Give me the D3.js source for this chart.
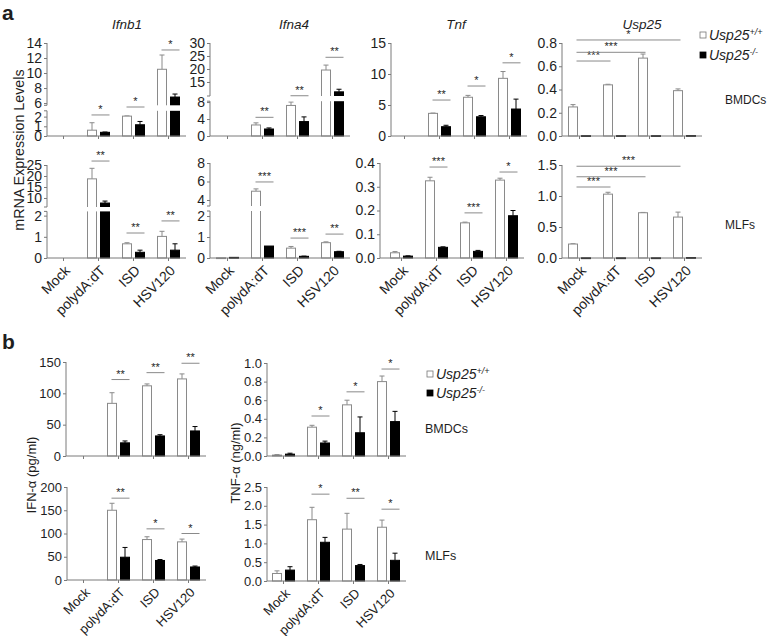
<!DOCTYPE html>
<html><head><meta charset="utf-8">
<script src="https://cdn.jsdelivr.net/npm/d3@7"></script>
<style>
body{margin:0;background:#fff;}
text{font-family:"Liberation Sans",Arial,sans-serif;}
</style></head><body>
<svg id="chart" width="768" height="636"></svg>
<script>
// ---------------- DATA ----------------
const categories = ["Mock", "polydA:dT", "ISD", "HSV120"];
const genotypes = ["Usp25+/+", "Usp25-/-"];

// Panel a – BMDCs (mRNA expression levels)
const ifnb1BmdcWt = [0, 0.6, 2.05, 10.5];
const ifnb1BmdcWtErr = [0, 0.77, 0.02, 1.9];
const ifnb1BmdcKo = [0, 0.38, 1.16, 6.8];
const ifnb1BmdcKoErr = [0, 0.03, 0.34, 0.4];
const ifnb1BmdcSig = [["polydA:dT", "*", 2.17], ["ISD", "*", 4.74], ["HSV120", "*", 13.07]];

const ifna4BmdcWt = [0, 2.6, 7.2, 19.6];
const ifna4BmdcWtErr = [0, 0.5, 0.8, 1.9];
const ifna4BmdcKo = [0, 1.65, 3.4, 11.2];
const ifna4BmdcKoErr = [0, 0.25, 1.1, 1.0];
const ifna4BmdcSig = [["polydA:dT", "**", 4.4], ["ISD", "**", 9.7], ["HSV120", "**", 24.5]];

const tnfBmdcWt = [0, 3.65, 6.25, 9.3];
const tnfBmdcWtErr = [0, 0.05, 0.3, 1.1];
const tnfBmdcKo = [0, 1.5, 3.1, 4.35];
const tnfBmdcKoErr = [0, 0.23, 0.2, 1.6];
const tnfBmdcSig = [["polydA:dT", "**", 5.8], ["ISD", "*", 8.06], ["HSV120", "*", 11.8]];

const usp25BmdcWt = [0.25, 0.44, 0.67, 0.39];
const usp25BmdcWtErr = [0.02, 0.005, 0.035, 0.015];
const usp25BmdcKo = [0.003, 0.003, 0.003, 0.004];
const usp25BmdcKoErr = [0, 0, 0, 0];
const usp25BmdcSig = [["polydA:dT", "***", 0.645], ["ISD", "***", 0.72], ["HSV120", "*", 0.826]];

// Panel a – MLFs
const ifnb1MlfWt = [0, 18.7, 0.67, 1.02];
const ifnb1MlfWtErr = [0, 4.8, 0.05, 0.24];
const ifnb1MlfKo = [0, 7.7, 0.27, 0.37];
const ifnb1MlfKoErr = [0, 0.9, 0.1, 0.3];
const ifnb1MlfSig = [["polydA:dT", "**", 26.8], ["ISD", "**", 1.18], ["HSV120", "**", 1.75]];

const ifna4MlfWt = [0.01, 4.95, 0.47, 0.73];
const ifna4MlfWtErr = [0, 0.25, 0.08, 0.04];
const ifna4MlfKo = [0.03, 0.57, 0.08, 0.3];
const ifna4MlfKoErr = [0, 0, 0.01, 0.02];
const ifna4MlfSig = [["polydA:dT", "***", 5.95], ["ISD", "***", 0.95], ["HSV120", "**", 1.14]];

const tnfMlfWt = [0.022, 0.325, 0.148, 0.328];
const tnfMlfWtErr = [0.005, 0.015, 0.003, 0.008];
const tnfMlfKo = [0.008, 0.045, 0.028, 0.178];
const tnfMlfKoErr = [0.001, 0.002, 0.004, 0.022];
const tnfMlfSig = [["polydA:dT", "***", 0.383], ["ISD", "***", 0.19], ["HSV120", "*", 0.362]];

const usp25MlfWt = [0.225, 1.03, 0.73, 0.66];
const usp25MlfWtErr = [0.005, 0.03, 0.005, 0.08];
const usp25MlfKo = [0.003, 0.003, 0.003, 0.008];
const usp25MlfKoErr = [0, 0, 0, 0];
const usp25MlfSig = [["polydA:dT", "***", 1.145], ["ISD", "***", 1.31], ["HSV120", "***", 1.48]];

// Panel b – protein (ELISA)
const ifnBmdcWt = [0, 84, 112, 123];
const ifnBmdcWtErr = [0, 17, 3, 8];
const ifnBmdcKo = [0, 21, 32, 40];
const ifnBmdcKoErr = [0, 3, 2, 7];
const ifnBmdcSig = [["polydA:dT", "**", 122], ["ISD", "**", 133], ["HSV120", "**", 148]];

const ifnMlfWt = [0, 150, 87, 82];
const ifnMlfWtErr = [0, 15, 6, 6];
const ifnMlfKo = [0, 49, 42, 28];
const ifnMlfKoErr = [0, 21, 2, 2];
const ifnMlfSig = [["polydA:dT", "**", 176], ["ISD", "*", 110], ["HSV120", "*", 100]];

const tnfaBmdcWt = [0.01, 0.31, 0.55, 0.8];
const tnfaBmdcWtErr = [0.005, 0.02, 0.05, 0.06];
const tnfaBmdcKo = [0.02, 0.14, 0.25, 0.37];
const tnfaBmdcKoErr = [0.01, 0.02, 0.17, 0.11];
const tnfaBmdcSig = [["polydA:dT", "*", 0.43], ["ISD", "*", 0.69], ["HSV120", "*", 0.935]];

const tnfaMlfWt = [0.2, 1.63, 1.38, 1.43];
const tnfaMlfWtErr = [0.07, 0.33, 0.42, 0.19];
const tnfaMlfKo = [0.29, 1.03, 0.41, 0.55];
const tnfaMlfKoErr = [0.09, 0.13, 0.03, 0.19];
const tnfaMlfSig = [["polydA:dT", "*", 2.31], ["ISD", "**", 2.2], ["HSV120", "*", 1.91]];

// Axis tick values
const ifnb1BmdcTicks = [0, 1, 2, 6, 8, 10, 12, 14];
const ifna4BmdcTicks = [0, 4, 8, 15, 20, 25, 30];
const tnfBmdcTicks = [0, 5, 10, 15];
const usp25BmdcTicks = [0, 0.2, 0.4, 0.6, 0.8];
const ifnb1MlfTicks = [0, 1, 2, 10, 15, 20, 25];
const ifna4MlfTicks = [0, 1, 2, 4, 6, 8];
const tnfMlfTicks = [0, 0.1, 0.2, 0.3, 0.4];
const usp25MlfTicks = [0, 0.5, 1.0, 1.5];
const ifnBmdcTicks = [0, 50, 100, 150];
const ifnMlfTicks = [0, 50, 100, 150, 200];
const tnfaBmdcTicks = [0, 0.2, 0.4, 0.6, 0.8, 1.0];
const tnfaMlfTicks = [0, 0.5, 1.0, 1.5, 2.0, 2.5];

// ---------------- DRAWING ----------------
const svg = d3.select("#chart");
const AX = "#7a7a7a";
const TXT = "#1e1e1e";
const WSTROKE = "#8a8a8a";

function panel(cfg) {
  const fs = cfg.fs || 13;
  const g = svg.append("g");
  const x = d3.scaleBand().domain(categories).range([cfg.bx, cfg.bx + 140]);
  const c = d => x(d) + x.bandwidth() / 2;
  const y = d3.scaleLinear().domain(cfg.yDomain).range(cfg.yRange);
  const y0 = y(0);
  const series = [
    {v: cfg.wt, e: cfg.wtErr, off: -11, fill: "#fff", stroke: WSTROKE},
    {v: cfg.ko, e: cfg.koErr, off: 2, fill: "#000", stroke: "#000"}
  ];
  series.forEach(s => {
    categories.forEach((cat, i) => {
      const v = s.v[i];
      if (v <= 0) return;
      const xx = c(cat) + s.off;
      const top = y(v);
      const err = s.e[i];
      if (err > 0) {
        const cx = xx + 4.5;
        const ye = y(v + err);
        g.append("line").attr("x1", cx).attr("x2", cx).attr("y1", top).attr("y2", ye)
          .attr("stroke", s.stroke).attr("stroke-width", 1);
        g.append("line").attr("x1", cx - 2.5).attr("x2", cx + 2.5).attr("y1", ye).attr("y2", ye)
          .attr("stroke", s.stroke).attr("stroke-width", 1);
      }
      g.append("rect").attr("x", xx).attr("y", top).attr("width", 9)
        .attr("height", Math.max(y0 - top, 0.8))
        .attr("fill", s.fill).attr("stroke", s.stroke).attr("stroke-width", 1);
    });
  });
  // axis break gap
  if (cfg.yDomain.length === 4) {
    g.append("rect").attr("x", cfg.ax + 0.5).attr("y", cfg.yRange[2])
      .attr("width", cfg.bx + 142 - cfg.ax).attr("height", cfg.yRange[1] - cfg.yRange[2])
      .attr("fill", "#fff");
  }
  // y axis
  const ya = g.append("g").attr("transform", `translate(${cfg.ax},0)`)
    .call(d3.axisLeft(y).tickValues(cfg.ticks).tickSize(3).tickPadding(2)
      .tickFormat(cfg.fmt || (d => d)));
  ya.select(".domain").remove();
  ya.selectAll(".tick line").attr("stroke", AX);
  ya.selectAll(".tick text").attr("fill", TXT).attr("font-size", fs)
    .attr("font-family", '"Liberation Sans", Arial, sans-serif');
  const segs = cfg.yDomain.length === 4
    ? [[cfg.yRange[0], cfg.yRange[1]], [cfg.yRange[2], cfg.yRange[3]]]
    : [[cfg.yRange[0], cfg.yRange[1]]];
  segs.forEach(sg => g.append("line").attr("x1", cfg.ax).attr("x2", cfg.ax)
    .attr("y1", sg[0]).attr("y2", sg[1]).attr("stroke", AX));
  if (cfg.yDomain.length === 4) {
    [cfg.yRange[1], cfg.yRange[2]].forEach(yy => g.append("line")
      .attr("x1", cfg.ax - 3).attr("x2", cfg.ax).attr("y1", yy).attr("y2", yy).attr("stroke", AX));
  }
  // x axis
  g.append("line").attr("x1", cfg.ax).attr("x2", cfg.bx + 140).attr("y1", y0).attr("y2", y0)
    .attr("stroke", AX);
  categories.forEach(cat => {
    g.append("line").attr("x1", c(cat)).attr("x2", c(cat)).attr("y1", y0).attr("y2", y0 + 3)
      .attr("stroke", AX);
    if (cfg.labels) {
      g.append("text").attr("transform", `translate(${c(cat) + 4},${y0 + 10}) rotate(-45)`)
        .attr("text-anchor", "end").attr("dy", "0.35em").attr("font-size", fs).attr("fill", TXT)
        .text(cat);
    }
  });
  // significance
  (cfg.sig || []).forEach(([cat, lab, lev]) => {
    const yy = y(lev);
    let x1, x2;
    if (cfg.vsMock) { x1 = c("Mock") - 3; x2 = c(cat) - 4; }
    else { x1 = c(cat) - 7; x2 = c(cat) + 11; }
    g.append("line").attr("x1", x1).attr("x2", x2).attr("y1", yy).attr("y2", yy)
      .attr("stroke", "#8a8a8a");
    g.append("text").attr("x", (x1 + x2) / 2).attr("y", yy - 2).attr("text-anchor", "middle")
      .attr("font-size", 11).attr("fill", TXT).text(lab);
  });
  if (cfg.title) {
    g.append("text").attr("x", cfg.title[1]).attr("y", 29).attr("text-anchor", "middle")
      .attr("font-style", "italic").attr("font-size", 13.5).attr("fill", TXT).text(cfg.title[0]);
  }
}

const f1 = d3.format(".1f");

// Panel a, BMDC row
panel({bx: 46, ax: 47, fs: 14, yDomain: [0, 2.6, 5.7, 14], yRange: [136, 110.8, 105.3, 43],
  ticks: ifnb1BmdcTicks, wt: ifnb1BmdcWt, wtErr: ifnb1BmdcWtErr, ko: ifnb1BmdcKo, koErr: ifnb1BmdcKoErr,
  sig: ifnb1BmdcSig, title: ["Ifnb1", 127]});
panel({bx: 210, ax: 210, fs: 14, yDomain: [0, 8.2, 9.6, 30], yRange: [136, 101.2, 96, 43],
  ticks: ifna4BmdcTicks, wt: ifna4BmdcWt, wtErr: ifna4BmdcWtErr, ko: ifna4BmdcKo, koErr: ifna4BmdcKoErr,
  sig: ifna4BmdcSig, title: ["Ifna4", 294]});
panel({bx: 387, ax: 391, fs: 14, yDomain: [0, 15], yRange: [136, 43],
  ticks: tnfBmdcTicks, wt: tnfBmdcWt, wtErr: tnfBmdcWtErr, ko: tnfBmdcKo, koErr: tnfBmdcKoErr,
  sig: tnfBmdcSig, title: ["Tnf", 456]});
panel({bx: 562, ax: 562, fs: 14, yDomain: [0, 0.8], yRange: [136, 43], fmt: f1,
  ticks: usp25BmdcTicks, wt: usp25BmdcWt, wtErr: usp25BmdcWtErr, ko: usp25BmdcKo, koErr: usp25BmdcKoErr,
  sig: usp25BmdcSig, vsMock: true, title: ["Usp25", 642]});

// Panel a, MLF row
panel({bx: 46, ax: 47, fs: 14, yDomain: [0, 2.2, 5.9, 25], yRange: [258, 211.4, 207, 165],
  ticks: ifnb1MlfTicks, wt: ifnb1MlfWt, wtErr: ifnb1MlfWtErr, ko: ifnb1MlfKo, koErr: ifnb1MlfKoErr,
  sig: ifnb1MlfSig, labels: true});
panel({bx: 210, ax: 210, fs: 14, yDomain: [0, 2.24, 3.35, 8], yRange: [258, 211, 206, 163],
  ticks: ifna4MlfTicks, wt: ifna4MlfWt, wtErr: ifna4MlfWtErr, ko: ifna4MlfKo, koErr: ifna4MlfKoErr,
  sig: ifna4MlfSig, labels: true});
panel({bx: 384, ax: 380, fs: 14, yDomain: [0, 0.4], yRange: [258, 163], fmt: f1,
  ticks: tnfMlfTicks, wt: tnfMlfWt, wtErr: tnfMlfWtErr, ko: tnfMlfKo, koErr: tnfMlfKoErr,
  sig: tnfMlfSig, labels: true});
panel({bx: 562, ax: 562, fs: 14, yDomain: [0, 1.5], yRange: [258, 165], fmt: f1,
  ticks: usp25MlfTicks, wt: usp25MlfWt, wtErr: usp25MlfWtErr, ko: usp25MlfKo, koErr: usp25MlfKoErr,
  sig: usp25MlfSig, vsMock: true, labels: true});

// Panel b
panel({bx: 66, ax: 66, yDomain: [0, 150], yRange: [456, 362],
  ticks: ifnBmdcTicks, wt: ifnBmdcWt, wtErr: ifnBmdcWtErr, ko: ifnBmdcKo, koErr: ifnBmdcKoErr,
  sig: ifnBmdcSig});
panel({bx: 66, ax: 67, yDomain: [0, 200], yRange: [580, 487],
  ticks: ifnMlfTicks, wt: ifnMlfWt, wtErr: ifnMlfWtErr, ko: ifnMlfKo, koErr: ifnMlfKoErr,
  sig: ifnMlfSig, labels: true});
panel({bx: 266, ax: 267, yDomain: [0, 1.0], yRange: [456, 363], fmt: f1,
  ticks: tnfaBmdcTicks, wt: tnfaBmdcWt, wtErr: tnfaBmdcWtErr, ko: tnfaBmdcKo, koErr: tnfaBmdcKoErr,
  sig: tnfaBmdcSig});
panel({bx: 266, ax: 267, yDomain: [0, 2.5], yRange: [581, 487], fmt: f1,
  ticks: tnfaMlfTicks, wt: tnfaMlfWt, wtErr: tnfaMlfWtErr, ko: tnfaMlfKo, koErr: tnfaMlfKoErr,
  sig: tnfaMlfSig, labels: true});

// ---------------- LABELS ----------------
function plain(x, y, txt, opts = {}) {
  const t = svg.append("text").attr("x", x).attr("y", y).attr("fill", TXT)
    .attr("font-size", opts.size || 13).text(txt);
  if (opts.bold) t.attr("font-weight", "bold");
  if (opts.anchor) t.attr("text-anchor", opts.anchor);
  if (opts.rotate) t.attr("transform", `rotate(-90,${x},${y})`);
  return t;
}
plain(2, 20, "a", {size: 21, bold: true});
plain(2, 349, "b", {size: 21, bold: true});
plain(24, 150, "mRNA Expression Levels", {anchor: "middle", rotate: true, size: 14.3});
plain(36, 475, "IFN-α (pg/ml)", {anchor: "middle", rotate: true});
plain(240, 463, "TNF-α (ng/ml)", {anchor: "middle", rotate: true});
plain(725, 104, "BMDCs", {size: 12});
plain(725, 229, "MLFs", {size: 12});
plain(425, 433, "BMDCs", {size: 12.5});
plain(425, 560, "MLFs", {size: 12.5});

function legend(x, y, gap) {
  genotypes.forEach((gname, i) => {
    const yy = y + i * gap;
    svg.append("rect").attr("x", x).attr("y", yy - 8).attr("width", 6).attr("height", 6)
      .attr("fill", i === 0 ? "#fff" : "#000").attr("stroke", i === 0 ? "#777" : "#000")
      .attr("stroke-width", 0.8);
    const base = gname.slice(0, 5);
    const sup = gname.slice(5);
    const t = svg.append("text").attr("x", x + 9).attr("y", yy).attr("fill", TXT)
      .attr("font-size", 14).attr("font-style", "italic").text(base);
    t.append("tspan").attr("dy", -5).attr("font-size", 9).text(sup);
  });
}
legend(700, 40, 20);
legend(427, 379, 19);
</script>
</body></html>
